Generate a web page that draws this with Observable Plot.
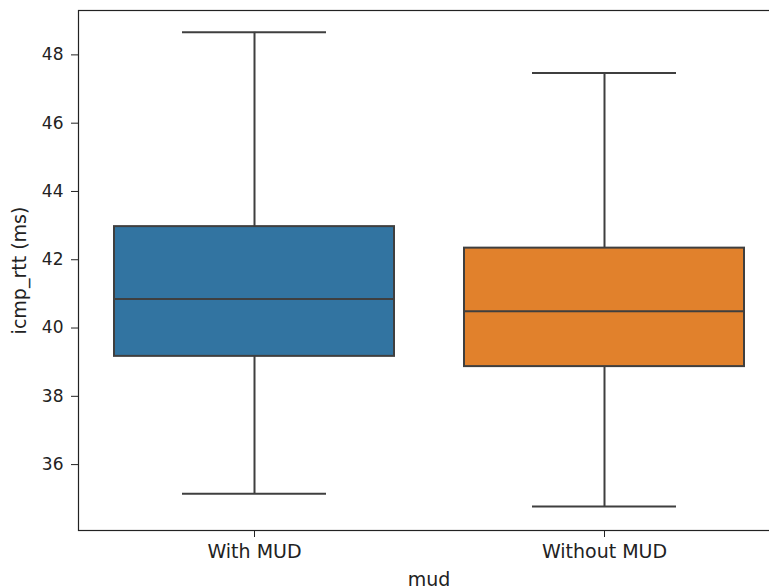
<!DOCTYPE html>
<html>
<head>
<meta charset="utf-8">
<script src="https://cdn.jsdelivr.net/npm/d3@7"></script>
<script src="https://cdn.jsdelivr.net/npm/@observablehq/plot@0.6"></script>
<style>
  html, body { margin: 0; padding: 0; background: white; overflow: hidden; }
</style>
</head>
<body>
<div id="chart"></div>
<script>
const categories = ["With MUD", "Without MUD"];
const whiskerLow = [35.15, 34.77];
const q1 = [39.17, 38.87];
const median = [40.85, 40.49];
const q3 = [42.97, 42.34];
const whiskerHigh = [48.66, 47.47];
const colors = ["#3274a1", "#e1812c"];
const yTicks = [36, 38, 40, 42, 44, 46, 48];

const data = categories.map((c, i) => ({
  mud: c, lo: whiskerLow[i], q1: q1[i], med: median[i], q3: q3[i], hi: whiskerHigh[i]
}));

const lineColor = "#3f3f3f";
const font = "DejaVu Sans, sans-serif";

const chart = Plot.plot({
  width: 769,
  height: 588,
  marginLeft: 78,
  marginRight: -10,
  marginTop: 10,
  marginBottom: 58,
  style: { fontFamily: font, fontSize: "17px", color: "#222", background: "white", overflow: "hidden" },
  x: { domain: categories, paddingInner: 0.2, paddingOuter: 0.1 },
  y: { domain: [34.07, 49.30] },
  color: { domain: categories, range: colors },
  marks: [
    Plot.ruleX(data, { x: "mud", y1: "lo", y2: "q1", stroke: lineColor, strokeWidth: 2 }),
    Plot.ruleX(data, { x: "mud", y1: "q3", y2: "hi", stroke: lineColor, strokeWidth: 2 }),
    Plot.tickY(data, { x: "mud", y: "lo", stroke: lineColor, strokeWidth: 2, insetLeft: 68, insetRight: 68 }),
    Plot.tickY(data, { x: "mud", y: "hi", stroke: lineColor, strokeWidth: 2, insetLeft: 68, insetRight: 68 }),
    Plot.barY(data, { x: "mud", y1: "q1", y2: "q3", fill: "mud", stroke: lineColor, strokeWidth: 2 }),
    Plot.tickY(data, { x: "mud", y: "med", stroke: lineColor, strokeWidth: 2 }),
    Plot.frame({ stroke: "#222", strokeWidth: 1.2 }),
    Plot.axisY(yTicks, {
      tickSize: 7, tickPadding: 8, label: null, fontSize: 17, stroke: "#222"
    }),
    Plot.axisY({
      ticks: [], tickSize: 0, label: "icmp_rtt (ms)", labelArrow: false, labelAnchor: "center",
      labelOffset: 66, fontSize: 19, stroke: "#222"
    }),
    Plot.axisX({
      tickSize: 7, tickPadding: 7, label: "mud", labelArrow: false, labelAnchor: "center",
      labelOffset: 55, fontSize: 19, stroke: "#222"
    })
  ]
});

document.getElementById("chart").appendChild(chart);
</script>
</body>
</html>
